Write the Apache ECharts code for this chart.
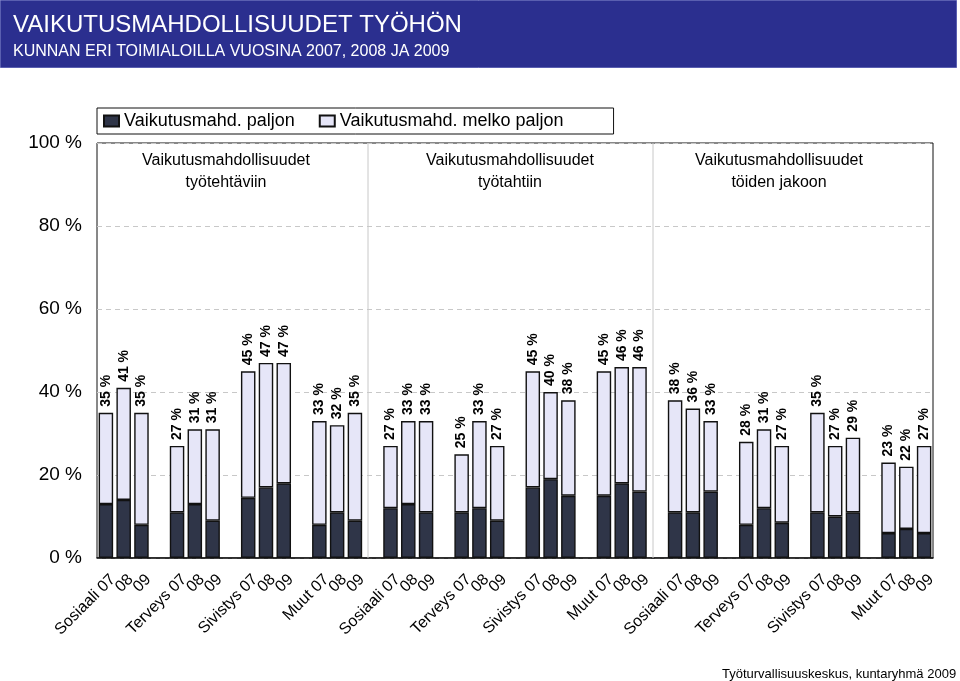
<!DOCTYPE html>
<html>
<head>
<meta charset="utf-8">
<script src="https://cdn.jsdelivr.net/npm/echarts@6/dist/echarts.min.js"></script>
<style>
html,body{margin:0;padding:0;background:#fff;}
#c{width:960px;height:681px;}
</style>
</head>
<body>
<div id="c"></div>
<script>
const ryhmat = ['Sosiaali', 'Terveys', 'Sivistys', 'Muut'];
const vuodet = ['07', '08', '09'];
const paneelit = ['Vaikutusmahdollisuudet\ntyötehtäviin', 'Vaikutusmahdollisuudet\ntyötahtiin', 'Vaikutusmahdollisuudet\ntöiden jakoon'];
const sarjaNimet = ['Vaikutusmahd. paljon', 'Vaikutusmahd. melko paljon'];
// totals (labels above bars), in panel order, group order, year order
const yhteensa = [35, 41, 35, 27, 31, 31, 45, 47, 47, 33, 32, 35,
                  27, 33, 33, 25, 33, 27, 45, 40, 38, 45, 46, 46,
                  38, 36, 33, 28, 31, 27, 35, 27, 29, 23, 22, 27];
// "paljon" (dark) segment
const paljon = [13, 14, 8, 11, 13, 9, 14.5, 17, 18, 8, 11, 9,
                12, 13, 11, 11, 12, 9, 17, 19, 15, 15, 18, 16,
                11, 11, 16, 8, 12, 8.5, 11, 10, 11, 6, 7, 6];
const yTicks = [0, 20, 40, 60, 80, 100];

// build slots: 3 bars per group + 1 empty gap slot between groups
const cats = [], darkData = [], lightData = [];
let k = 0;
const nGroups = paneelit.length * ryhmat.length;
for (let g = 0; g < nGroups; g++) {
  for (let y = 0; y < vuodet.length; y++) {
    cats.push(y === 0 ? ryhmat[g % ryhmat.length] + ' ' + vuodet[y] : vuodet[y]);
    darkData.push(paljon[k]);
    lightData.push({ value: yhteensa[k] - paljon[k], total: yhteensa[k] });
    k++;
  }
  if (g < nGroups - 1) { cats.push(''); darkData.push('-'); lightData.push('-'); }
}

const DARK = '#2f3548', LIGHT = '#e6e6f8';
const chart = echarts.init(document.getElementById('c'), null, { renderer: 'canvas' });
const font = 'Liberation Sans, Arial, sans-serif';

const panelX = [226, 510, 779];
const graphics = [
  { type: 'rect', left: 0, top: 0, shape: { x: 0, y: 0, width: 956, height: 67 }, style: { fill: '#2b2f8f', stroke: '#5a5fb0', lineWidth: 1 }, z: 0 },
  { type: 'text', left: 13, top: 13, style: { text: 'VAIKUTUSMAHDOLLISUUDET TYÖHÖN', fill: '#fff', font: '24px ' + font } },
  { type: 'text', left: 13, top: 44, style: { text: 'KUNNAN ERI TOIMIALOILLA VUOSINA 2007, 2008 JA 2009', fill: '#fff', font: '16px ' + font } },
  { type: 'line', shape: { x1: 368, y1: 143, x2: 368, y2: 558 }, style: { stroke: '#c8c8c8', lineWidth: 1 }, z: 1 },
  { type: 'line', shape: { x1: 653, y1: 143, x2: 653, y2: 558 }, style: { stroke: '#c8c8c8', lineWidth: 1 }, z: 1 },
  { type: 'text', left: 722, top: 668, style: { text: 'Työturvallisuuskeskus, kuntaryhmä 2009', fill: '#000', font: '13px ' + font } }
];
paneelit.forEach((t, i) => {
  graphics.push({ type: 'text', x: panelX[i], y: 150, style: { text: t, fill: '#000', font: '16px ' + font, align: 'center', lineHeight: 22 }, z: 5 });
});

chart.setOption({
  animation: false,
  backgroundColor: '#fff',
  textStyle: { fontFamily: font },
  grid: { left: 97, top: 143, width: 836, height: 415, show: true, borderColor: '#111', borderWidth: 1, containLabel: false },
  legend: {
    left: 97, top: 108, orient: 'horizontal',
    data: sarjaNimet,
    itemWidth: 15, itemHeight: 11, itemGap: 24,
    padding: [4, 50, 4, 6],
    borderColor: '#111', borderWidth: 1,
    textStyle: { fontSize: 18, color: '#000', fontFamily: font },
    icon: 'rect'
  },
  xAxis: {
    type: 'category', data: cats, boundaryGap: true,
    axisTick: { show: false },
    axisLine: { lineStyle: { color: '#111', width: 1.5 } },
    axisLabel: { interval: 0, rotate: 45, fontSize: 16, color: '#000', margin: 12, fontFamily: font, verticalAlign: 'top', lineHeight: 20 }
  },
  yAxis: {
    type: 'value', min: yTicks[0], max: yTicks[yTicks.length - 1], interval: 20,
    axisLine: { show: false }, axisTick: { show: false },
    axisLabel: { formatter: '{value} %', fontSize: 19, color: '#000', margin: 15, fontFamily: font },
    splitLine: { lineStyle: { color: '#c8c8c8', type: [5, 4] } }
  },
  graphic: graphics,
  series: [
    {
      name: sarjaNimet[0], type: 'bar', stack: 's', data: darkData, barWidth: 14.5,
      itemStyle: { color: DARK, borderColor: '#111', borderWidth: 1.4 }
    },
    {
      name: sarjaNimet[1], type: 'bar', stack: 's', data: lightData, barWidth: 14.5,
      itemStyle: { color: LIGHT, borderColor: '#111', borderWidth: 1.4 },
      label: {
        show: true, position: 'top', rotate: 90, align: 'left', verticalAlign: 'middle', distance: 6,
        fontSize: 14, fontWeight: 'bold', color: '#000', fontFamily: font,
        formatter: p => p.data.total + ' %'
      }
    }
  ]
});
</script>
</body>
</html>
